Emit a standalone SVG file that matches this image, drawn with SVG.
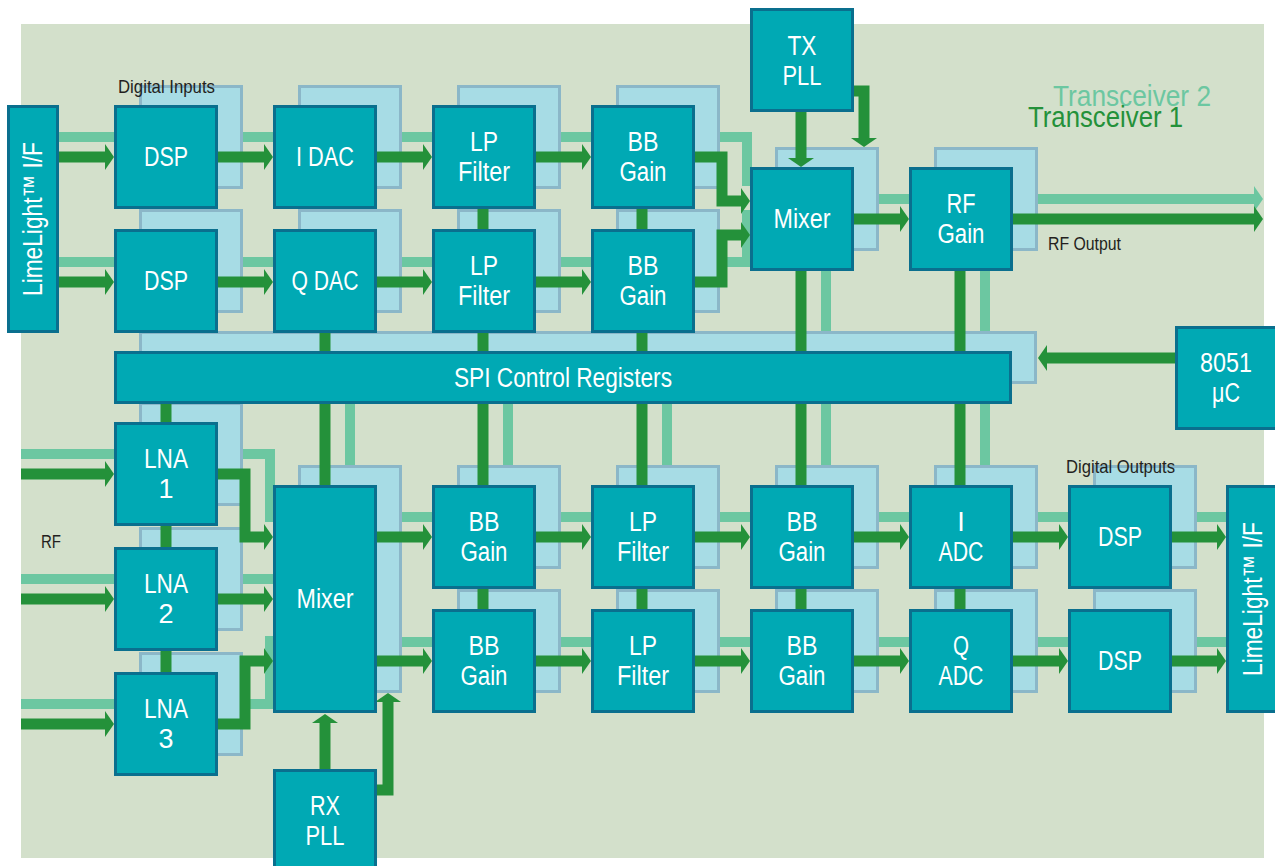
<svg xmlns="http://www.w3.org/2000/svg" width="1275" height="866" viewBox="0 0 1275 866">
<style>
.bg{fill:#d3e0cb}
.back{fill:#a7dce5;stroke:#8bb7c8;stroke-width:3}
.box{fill:#00a9b4;stroke:#0a6f8e;stroke-width:3}
.lg{fill:none;stroke:#6cc7a1;stroke-width:10;stroke-linejoin:miter}
.dg{fill:none;stroke:#24913a;stroke-width:11;stroke-linejoin:miter}
.dga{fill:none;stroke:#24913a;stroke-width:11;stroke-linejoin:miter;marker-end:url(#hd)}
.lga{fill:none;stroke:#6cc7a1;stroke-width:10;marker-end:url(#hl)}
.t{font-family:"Liberation Sans",Arial,sans-serif;font-size:27px;fill:#ffffff;text-anchor:middle}
.s{font-family:"Liberation Sans",Arial,sans-serif;font-size:19px;fill:#231f20}
.big{font-family:"Liberation Sans",Arial,sans-serif;font-size:29px}
</style>
<defs>
<marker id="hd" markerUnits="userSpaceOnUse" markerWidth="10" markerHeight="28" refX="0" refY="13" orient="auto" viewBox="0 0 10 26"><path d="M0,0 L9,13 L0,26 z" fill="#24913a"/></marker>
<marker id="hl" markerUnits="userSpaceOnUse" markerWidth="10" markerHeight="28" refX="0" refY="13" orient="auto" viewBox="0 0 10 26"><path d="M0,0 L9,13 L0,26 z" fill="#6cc7a1"/></marker>
</defs>
<rect class="bg" x="21" y="24" width="1243" height="834"/>
<text class="big" x="1053" y="106" fill="#6cc7a1" textLength="158" lengthAdjust="spacingAndGlyphs">Transceiver 2</text>
<text class="big" x="1028" y="127" fill="#24913a" textLength="155" lengthAdjust="spacingAndGlyphs">Transceiver 1</text>
<g id="connectors-tx2">
<path class="lg" d="M59 137 H747 V181 H780"/>
<path class="lg" d="M59 262 H747 V215 H780"/>
<path class="lga" d="M850 199 H1254"/>
<path class="lg" d="M826 251 V331"/>
<path class="lg" d="M985 251 V331 M985 384 V465"/>
<path class="lg" d="M21 454 H270 V517 H300"/>
<path class="lg" d="M21 579 H300"/>
<path class="lg" d="M21 704 H270 V641 H300"/>
<path class="lg" d="M350 384 V465 M508 384 V465 M667 384 V465 M826 384 V465"/>
<path class="lg" d="M400 517 H1226 M400 642 H1226"/>
</g>
<g id="panels-tx2">
<rect class="back" x="140.5" y="86.5" width="101" height="101"/>
<rect class="back" x="140.5" y="210.5" width="101" height="101"/>
<rect class="back" x="299.5" y="86.5" width="101" height="101"/>
<rect class="back" x="299.5" y="210.5" width="101" height="101"/>
<rect class="back" x="458.5" y="86.5" width="101" height="101"/>
<rect class="back" x="458.5" y="210.5" width="101" height="101"/>
<rect class="back" x="617.5" y="86.5" width="101" height="101"/>
<rect class="back" x="617.5" y="210.5" width="101" height="101"/>
<rect class="back" x="776.5" y="148.5" width="101" height="101"/>
<rect class="back" x="935.5" y="148.5" width="101" height="101"/>
<rect class="back" x="140.5" y="332.5" width="895" height="50"/>
<rect class="back" x="140.5" y="403.5" width="101" height="101"/>
<rect class="back" x="140.5" y="528.5" width="101" height="101"/>
<rect class="back" x="140.5" y="653.5" width="101" height="101"/>
<rect class="back" x="299.5" y="466.5" width="101" height="225"/>
<rect class="back" x="458.5" y="466.5" width="101" height="101"/>
<rect class="back" x="458.5" y="590.5" width="101" height="101"/>
<rect class="back" x="617.5" y="466.5" width="101" height="101"/>
<rect class="back" x="617.5" y="590.5" width="101" height="101"/>
<rect class="back" x="776.5" y="466.5" width="101" height="101"/>
<rect class="back" x="776.5" y="590.5" width="101" height="101"/>
<rect class="back" x="935.5" y="466.5" width="101" height="101"/>
<rect class="back" x="935.5" y="590.5" width="101" height="101"/>
<rect class="back" x="1094.5" y="466.5" width="101" height="101"/>
<rect class="back" x="1094.5" y="590.5" width="101" height="101"/>
</g>
<text class="s" x="118" y="93" textLength="97" lengthAdjust="spacingAndGlyphs">Digital Inputs</text>
<text class="s" x="1066" y="473" textLength="109" lengthAdjust="spacingAndGlyphs">Digital Outputs</text>
<text class="s" x="1048" y="250" textLength="73" lengthAdjust="spacingAndGlyphs">RF Output</text>
<text class="s" x="41" y="548" textLength="20" lengthAdjust="spacingAndGlyphs">RF</text>
<g id="connectors">
<path class="dga" d="M59 157 H105"/>
<path class="dga" d="M218 157 H264"/>
<path class="dga" d="M377 157 H423"/>
<path class="dga" d="M536 157 H582"/>
<path class="dga" d="M695 157 H722 V201 H741"/>
<path class="dga" d="M59 282 H105"/>
<path class="dga" d="M218 282 H264"/>
<path class="dga" d="M377 282 H423"/>
<path class="dga" d="M536 282 H582"/>
<path class="dga" d="M695 282 H722 V235 H741"/>
<path class="dga" d="M854 219 H900"/>
<path class="dga" d="M1013 219 H1254"/>
<path class="dga" d="M801 112 V158"/>
<path class="dga" d="M854 91 H864 V138"/>
<path class="dga" d="M1175 358 H1047"/>
<path class="dg" d="M483 209 V229 M642 209 V229 M325 333 V351 M483 333 V351 M642 333 V351 M801 271 V351 M960 271 V485"/>
<path class="dg" d="M166 404 V422 M166 526 V547 M166 651 V672"/>
<path class="dg" d="M325 404 V485 M483 404 V485 M483 589 V609 M642 404 V485 M642 589 V609 M801 404 V485 M801 589 V609 M960 589 V609"/>
<path class="dga" d="M21 474 H105"/>
<path class="dga" d="M21 599 H105"/>
<path class="dga" d="M21 724 H105"/>
<path class="dga" d="M218 474 H245 V537 H264"/>
<path class="dga" d="M218 599 H264"/>
<path class="dga" d="M218 724 H245 V661 H264"/>
<path class="dga" d="M377 537 H423"/>
<path class="dga" d="M377 661 H423"/>
<path class="dga" d="M536 537 H582"/>
<path class="dga" d="M695 537 H741"/>
<path class="dga" d="M854 537 H900"/>
<path class="dga" d="M1013 537 H1059"/>
<path class="dga" d="M1172 537 H1217"/>
<path class="dga" d="M536 661 H582"/>
<path class="dga" d="M695 661 H741"/>
<path class="dga" d="M854 661 H900"/>
<path class="dga" d="M1013 661 H1059"/>
<path class="dga" d="M1172 661 H1217"/>
<path class="dga" d="M325 769 V723"/>
<path class="dga" d="M377 790 H388 V702"/>
</g>
<g id="limelight-in"><rect class="box" x="8.5" y="106.5" width="49" height="225"/><text class="t" transform="translate(42,219) rotate(-90)" textLength="154" lengthAdjust="spacingAndGlyphs">LimeLight™ I/F</text></g>
<g id="dsp-i"><rect class="box" x="115.5" y="106.5" width="101" height="101"/><text class="t" x="166" y="166" textLength="44" lengthAdjust="spacingAndGlyphs">DSP</text></g>
<g id="dsp-q"><rect class="box" x="115.5" y="230.5" width="101" height="101"/><text class="t" x="166" y="290" textLength="44" lengthAdjust="spacingAndGlyphs">DSP</text></g>
<g id="i-dac"><rect class="box" x="274.5" y="106.5" width="101" height="101"/><text class="t" x="325" y="166" textLength="58" lengthAdjust="spacingAndGlyphs">I DAC</text></g>
<g id="q-dac"><rect class="box" x="274.5" y="230.5" width="101" height="101"/><text class="t" x="325" y="290" textLength="67" lengthAdjust="spacingAndGlyphs">Q DAC</text></g>
<g id="tx-lp-i"><rect class="box" x="433.5" y="106.5" width="101" height="101"/><text class="t" x="484" y="151" textLength="28" lengthAdjust="spacingAndGlyphs">LP</text><text class="t" x="484" y="181" textLength="52" lengthAdjust="spacingAndGlyphs">Filter</text></g>
<g id="tx-lp-q"><rect class="box" x="433.5" y="230.5" width="101" height="101"/><text class="t" x="484" y="275" textLength="28" lengthAdjust="spacingAndGlyphs">LP</text><text class="t" x="484" y="305" textLength="52" lengthAdjust="spacingAndGlyphs">Filter</text></g>
<g id="tx-bb-i"><rect class="box" x="592.5" y="106.5" width="101" height="101"/><text class="t" x="643" y="151" textLength="31" lengthAdjust="spacingAndGlyphs">BB</text><text class="t" x="643" y="181" textLength="47" lengthAdjust="spacingAndGlyphs">Gain</text></g>
<g id="tx-bb-q"><rect class="box" x="592.5" y="230.5" width="101" height="101"/><text class="t" x="643" y="275" textLength="31" lengthAdjust="spacingAndGlyphs">BB</text><text class="t" x="643" y="305" textLength="47" lengthAdjust="spacingAndGlyphs">Gain</text></g>
<g id="tx-pll"><rect class="box" x="751.5" y="9.5" width="101" height="101"/><text class="t" x="802" y="55" textLength="29" lengthAdjust="spacingAndGlyphs">TX</text><text class="t" x="802" y="85" textLength="39" lengthAdjust="spacingAndGlyphs">PLL</text></g>
<g id="tx-mixer"><rect class="box" x="751.5" y="168.5" width="101" height="101"/><text class="t" x="802" y="228" textLength="57" lengthAdjust="spacingAndGlyphs">Mixer</text></g>
<g id="rf-gain"><rect class="box" x="910.5" y="168.5" width="101" height="101"/><text class="t" x="961" y="213" textLength="29" lengthAdjust="spacingAndGlyphs">RF</text><text class="t" x="961" y="243" textLength="47" lengthAdjust="spacingAndGlyphs">Gain</text></g>
<g id="spi"><rect class="box" x="115.5" y="352.5" width="895" height="50"/><text class="t" x="563" y="387" textLength="218" lengthAdjust="spacingAndGlyphs">SPI Control Registers</text></g>
<g id="uc8051"><rect class="box" x="1176.5" y="327.5" width="110" height="101"/><text class="t" x="1226" y="372" textLength="52" lengthAdjust="spacingAndGlyphs">8051</text><text class="t" x="1226" y="402" textLength="28" lengthAdjust="spacingAndGlyphs">μC</text></g>
<g id="lna1"><rect class="box" x="115.5" y="423.5" width="101" height="101"/><text class="t" x="166" y="468" textLength="44" lengthAdjust="spacingAndGlyphs">LNA</text><text class="t" x="166" y="498">1</text></g>
<g id="lna2"><rect class="box" x="115.5" y="548.5" width="101" height="101"/><text class="t" x="166" y="593" textLength="44" lengthAdjust="spacingAndGlyphs">LNA</text><text class="t" x="166" y="623">2</text></g>
<g id="lna3"><rect class="box" x="115.5" y="673.5" width="101" height="101"/><text class="t" x="166" y="718" textLength="44" lengthAdjust="spacingAndGlyphs">LNA</text><text class="t" x="166" y="748">3</text></g>
<g id="rx-mixer"><rect class="box" x="274.5" y="486.5" width="101" height="225"/><text class="t" x="325" y="608" textLength="57" lengthAdjust="spacingAndGlyphs">Mixer</text></g>
<g id="rx-pll"><rect class="box" x="274.5" y="770.5" width="101" height="101"/><text class="t" x="325" y="815" textLength="30" lengthAdjust="spacingAndGlyphs">RX</text><text class="t" x="325" y="845" textLength="39" lengthAdjust="spacingAndGlyphs">PLL</text></g>
<g id="rx-bb1-i"><rect class="box" x="433.5" y="486.5" width="101" height="101"/><text class="t" x="484" y="531" textLength="31" lengthAdjust="spacingAndGlyphs">BB</text><text class="t" x="484" y="561" textLength="47" lengthAdjust="spacingAndGlyphs">Gain</text></g>
<g id="rx-bb1-q"><rect class="box" x="433.5" y="610.5" width="101" height="101"/><text class="t" x="484" y="655" textLength="31" lengthAdjust="spacingAndGlyphs">BB</text><text class="t" x="484" y="685" textLength="47" lengthAdjust="spacingAndGlyphs">Gain</text></g>
<g id="rx-lp-i"><rect class="box" x="592.5" y="486.5" width="101" height="101"/><text class="t" x="643" y="531" textLength="28" lengthAdjust="spacingAndGlyphs">LP</text><text class="t" x="643" y="561" textLength="52" lengthAdjust="spacingAndGlyphs">Filter</text></g>
<g id="rx-lp-q"><rect class="box" x="592.5" y="610.5" width="101" height="101"/><text class="t" x="643" y="655" textLength="28" lengthAdjust="spacingAndGlyphs">LP</text><text class="t" x="643" y="685" textLength="52" lengthAdjust="spacingAndGlyphs">Filter</text></g>
<g id="rx-bb2-i"><rect class="box" x="751.5" y="486.5" width="101" height="101"/><text class="t" x="802" y="531" textLength="31" lengthAdjust="spacingAndGlyphs">BB</text><text class="t" x="802" y="561" textLength="47" lengthAdjust="spacingAndGlyphs">Gain</text></g>
<g id="rx-bb2-q"><rect class="box" x="751.5" y="610.5" width="101" height="101"/><text class="t" x="802" y="655" textLength="31" lengthAdjust="spacingAndGlyphs">BB</text><text class="t" x="802" y="685" textLength="47" lengthAdjust="spacingAndGlyphs">Gain</text></g>
<g id="i-adc"><rect class="box" x="910.5" y="486.5" width="101" height="101"/><text class="t" x="961" y="531">I</text><text class="t" x="961" y="561" textLength="45" lengthAdjust="spacingAndGlyphs">ADC</text></g>
<g id="q-adc"><rect class="box" x="910.5" y="610.5" width="101" height="101"/><text class="t" x="961" y="655" textLength="16" lengthAdjust="spacingAndGlyphs">Q</text><text class="t" x="961" y="685" textLength="45" lengthAdjust="spacingAndGlyphs">ADC</text></g>
<g id="dsp-out-i"><rect class="box" x="1069.5" y="486.5" width="101" height="101"/><text class="t" x="1120" y="546" textLength="44" lengthAdjust="spacingAndGlyphs">DSP</text></g>
<g id="dsp-out-q"><rect class="box" x="1069.5" y="610.5" width="101" height="101"/><text class="t" x="1120" y="670" textLength="44" lengthAdjust="spacingAndGlyphs">DSP</text></g>
<g id="limelight-out"><rect class="box" x="1227.5" y="486.5" width="60" height="225"/><text class="t" transform="translate(1262,599) rotate(-90)" textLength="154" lengthAdjust="spacingAndGlyphs">LimeLight™ I/F</text></g>
</svg>
